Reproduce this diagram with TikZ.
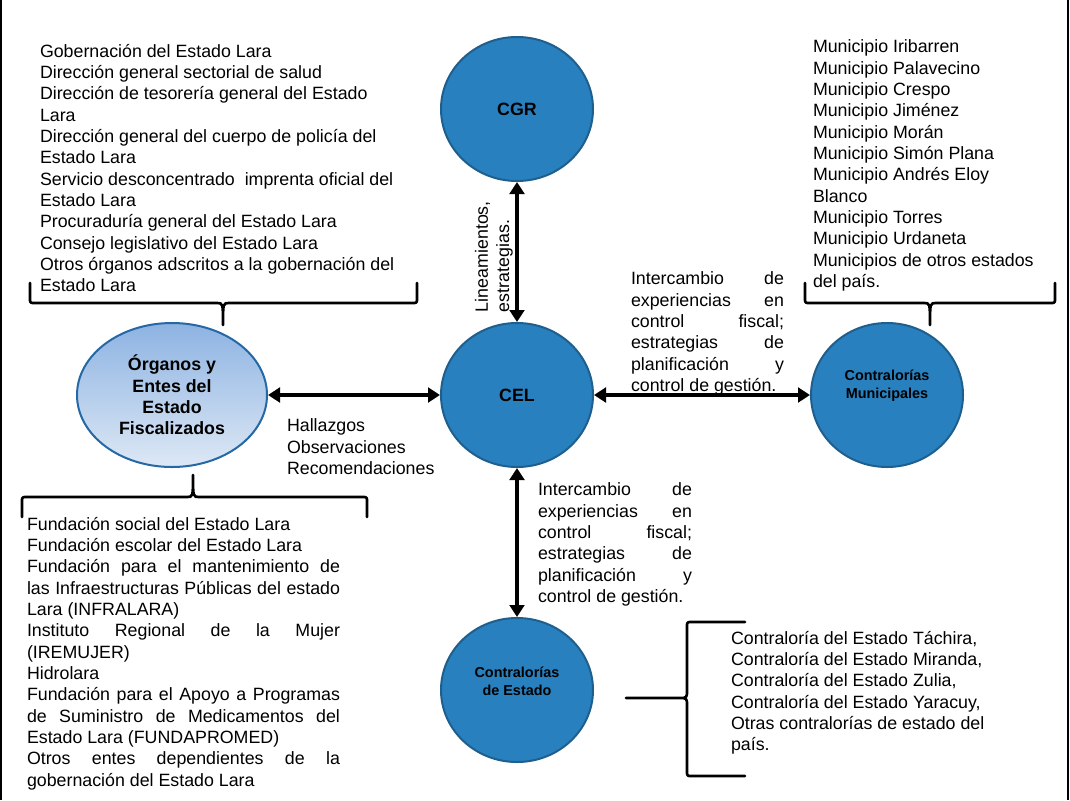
\documentclass[tikz,border=0pt]{standalone}
\usepackage{fontspec}
\setmainfont{Liberation Sans}
\usetikzlibrary{shapes.geometric,arrows.meta,calc}
\definecolor{circfill}{HTML}{2980BF}
\definecolor{circborder}{HTML}{1E5F8E}
\definecolor{orgtop}{HTML}{8DB3E2}
\definecolor{orgbot}{HTML}{DDE8F5}
\definecolor{orgborder}{HTML}{2468A6}
\newcommand{\jline}[2]{\makebox[#1][s]{#2}}
\begin{document}
\begin{tikzpicture}[x=0.75pt,y=-0.75pt,
  txt/.style={inner sep=0pt, outer sep=0pt, anchor=north west, align=left,
    font=\fontsize{13.35pt}{16pt}\selectfont},
  bigcirc/.style={ellipse, draw=circborder, line width=1.5pt, fill=circfill,
    minimum width=114pt, minimum height=108pt, inner sep=0pt, align=center,
    font=\fontsize{13.35pt}{16pt}\selectfont\bfseries},
  orgcirc/.style={ellipse, draw=orgborder, line width=1.5pt, top color=orgtop, bottom color=orgbot,
    minimum width=142.5pt, minimum height=108pt, inner sep=0pt, align=center,
    font=\fontsize{13.35pt}{16pt}\selectfont\bfseries},
  smalllbl/.style={inner sep=0pt, align=center, font=\fontsize{10.8pt}{13.5pt}\selectfont\bfseries},
  dblarrow/.style={line width=3pt, {Triangle[width=11pt,length=9pt]}-{Triangle[width=11pt,length=9pt]}},
  bracestyle/.style={line width=2pt, line cap=round, line join=round}]
\useasboundingbox (0,0) rectangle (1070,800);
\fill[white] (0,0) rectangle (1070,800);
\draw[line width=1.5pt] (1,0) -- (1,800);
\draw[line width=1.5pt] (1068,0) -- (1068,800);

% circles
\node[bigcirc] (cgr) at (517,109) {CGR};
\node[bigcirc] (cel) at (517,395) {CEL};
\node[bigcirc] (mun) at (887,395) {};
\node[bigcirc] (est) at (517,690) {};
\node[orgcirc] (org) at (172,395) {Órganos y\\Entes del\\Estado\\Fiscalizados};
\node[smalllbl] (munlbl) at ($(mun.center)+(0,-9)$) {Contralorías\\Municipales};
\node[smalllbl] (estlbl) at ($(est.center)+(0,-9)$) {Contralorías\\de Estado};

% connectors
\draw[dblarrow] (cgr) -- (cel);
\draw[dblarrow] (org) -- (cel);
\draw[dblarrow] (cel) -- (mun);
\draw[dblarrow] (cel) -- (est);

% braces
\draw[bracestyle] (30,283) -- (30,298) .. controls (30,303) .. (35,303) -- (217,303)
  .. controls (223,303) .. (223,325) .. controls (223,303) .. (229,303) -- (412,303)
  .. controls (417,303) .. (417,298) -- (417,283);
\draw[bracestyle] (805,283) -- (805,298) .. controls (805,303) .. (810,303) -- (924,303)
  .. controls (930,303) .. (930,325) .. controls (930,303) .. (936,303) -- (1050,303)
  .. controls (1055,303) .. (1055,298) -- (1055,283);
\draw[bracestyle] (22,517) -- (22,502) .. controls (22,497) .. (27,497) -- (187,497)
  .. controls (193,497) .. (193,475) .. controls (193,497) .. (199,497) -- (362,497)
  .. controls (367,497) .. (367,502) -- (367,517);
\draw[bracestyle] (745,622) -- (692,622) .. controls (687,622) .. (687,627) -- (687,690)
  .. controls (687,698) .. (679,698) -- (626,698) -- (679,698)
  .. controls (687,698) .. (687,706) -- (687,771) .. controls (687,776) .. (692,776) -- (745,776);

% text blocks
\node[txt] (listA) at (40,44) {Gobernación del Estado Lara\\
Dirección general sectorial de salud\\
Dirección de tesorería general del Estado\\
Lara\\
Dirección general del cuerpo de policía del\\
Estado Lara\\
Servicio desconcentrado\ \ imprenta oficial del\\
Estado Lara\\
Procuraduría general del Estado Lara\\
Consejo legislativo del Estado Lara\\
Otros órganos adscritos a la gobernación del\\
Estado Lara};

\node[txt] (listB) at (813,40) {Municipio Iribarren\\
Municipio Palavecino\\
Municipio Crespo\\
Municipio Jiménez\\
Municipio Morán\\
Municipio Simón Plana\\
Municipio Andrés Eloy\\
Blanco\\
Municipio Torres\\
Municipio Urdaneta\\
Municipios de otros estados\\
del país.};

\node[txt] (hall) at (287,419) {Hallazgos\\Observaciones\\Recomendaciones};

\node[txt] (interD) at (631,272) {\jline{114.75pt}{Intercambio de}\\
\jline{114.75pt}{experiencias en}\\
\jline{114.75pt}{control fiscal;}\\
\jline{114.75pt}{estrategias de}\\
\jline{114.75pt}{planificación y}\\
control de gestión.};

\node[txt] (interE) at (538,483) {\jline{115.5pt}{Intercambio de}\\
\jline{115.5pt}{experiencias en}\\
\jline{115.5pt}{control fiscal;}\\
\jline{115.5pt}{estrategias de}\\
\jline{115.5pt}{planificación y}\\
control de gestión.};

\node[txt] (listF) at (27,517) {Fundación social del Estado Lara\\
Fundación escolar del Estado Lara\\
\jline{234.75pt}{Fundación para el mantenimiento de}\\
\jline{234.75pt}{las Infraestructuras Públicas del estado}\\
Lara (INFRALARA)\\
\jline{234.75pt}{Instituto Regional de la Mujer}\\
(IREMUJER)\\
Hidrolara\\
\jline{234.75pt}{Fundación para el Apoyo a Programas}\\
\jline{234.75pt}{de Suministro de Medicamentos del}\\
Estado Lara (FUNDAPROMED)\\
\jline{234.75pt}{Otros entes dependientes de la}\\
gobernación del Estado Lara};

\node[txt] (listG) at (731,631) {Contraloría del Estado Táchira,\\
Contraloría del Estado Miranda,\\
Contraloría del Estado Zulia,\\
Contraloría del Estado Yaracuy,\\
Otras contralorías de estado del\\
país.};

\node[txt, rotate=90] (linea) at (475,312) {Lineamientos,\\estrategias.};
\end{tikzpicture}
\end{document}
